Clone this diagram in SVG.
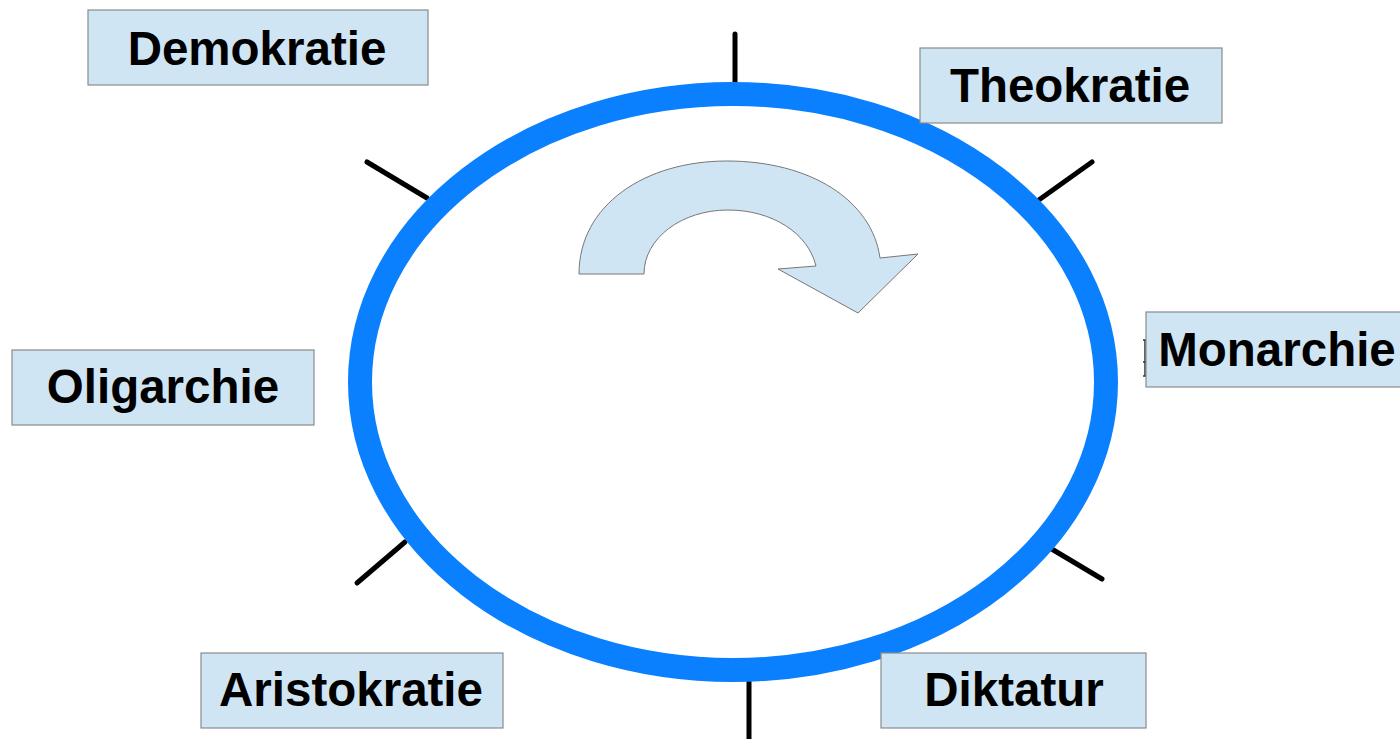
<svg xmlns="http://www.w3.org/2000/svg" width="1400" height="739" viewBox="0 0 1400 739">
<style>
.box{fill:#cfe5f3;stroke:#8a8a8a;stroke-width:1.2}
.lbl{font-family:"Liberation Sans",Arial,sans-serif;font-weight:bold;font-size:47.5px;fill:#000;text-anchor:middle}
.tick{stroke:#000;stroke-width:5;stroke-linecap:round;fill:none}
</style>
<rect width="1400" height="739" fill="#fff"/>
<g id="connectors">
<line class="tick" x1="735" y1="34" x2="735" y2="84"/>
<line class="tick" x1="367" y1="162" x2="427" y2="198"/>
<line class="tick" x1="1036" y1="202" x2="1092" y2="162"/>
<line class="tick" x1="1050" y1="548" x2="1102" y2="579"/>
<line class="tick" x1="749" y1="682" x2="749" y2="742"/>
<line class="tick" x1="405" y1="542" x2="357" y2="583"/>
<path d="M1143,340 H1146 M1145,340 V376 M1143,362 H1146 M1143,376 H1146" stroke="#333" stroke-width="1.5" fill="none"/>
</g>
<g id="cycle">
<ellipse cx="733" cy="382" rx="373" ry="288" fill="none" stroke="#0a80ff" stroke-width="24"/>
</g>
<g id="arrow">
<path d="M579,274 C579,205 645,161 727,161 C810,161 872,200 880,258 L918,254 L858,313 L778,269 L816,266 C808,233 772,210 728,210 C682,210 644,238 644,274 Z" fill="#cfe5f3" stroke="#777" stroke-width="1"/>
</g>
<g id="demokratie"><rect class="box" x="88" y="10" width="340" height="75"/><text class="lbl" x="257" y="65">Demokratie</text></g>
<g id="theokratie"><rect class="box" x="920" y="48" width="302" height="75"/><text class="lbl" x="1070" y="102">Theokratie</text></g>
<g id="monarchie"><rect class="box" x="1146" y="312" width="260" height="75"/><text class="lbl" x="1277" y="366">Monarchie</text></g>
<g id="oligarchie"><rect class="box" x="12" y="350" width="302" height="75"/><text class="lbl" x="163" y="403">Oligarchie</text></g>
<g id="aristokratie"><rect class="box" x="201" y="653" width="302" height="75"/><text class="lbl" x="351" y="706">Aristokratie</text></g>
<g id="diktatur"><rect class="box" x="881" y="653" width="265" height="75"/><text class="lbl" x="1014" y="706">Diktatur</text></g>
</svg>
